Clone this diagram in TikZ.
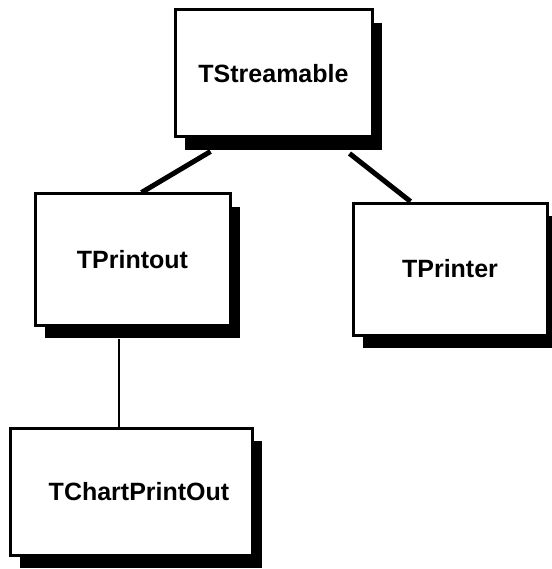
\documentclass[tikz,border=0pt]{standalone}
\usepackage{fontspec}
\setmainfont{Liberation Sans}
\usetikzlibrary{shadows,calc}
\tikzset{
  classbox/.style={draw=black, line width=3pt, fill=white, inner sep=0pt,
    font=\bfseries\fontsize{25}{25}\selectfont,
    general shadow={fill=black, shadow xshift=10pt, shadow yshift=-13pt}},
  thickconn/.style={draw=black, line width=5pt},
  thinconn/.style={draw=black, line width=2pt}
}
\begin{document}
\begin{tikzpicture}[x=1pt,y=-1pt]
\useasboundingbox (0,0) rectangle (551,569);
\fill[white] (0,0) rectangle (551,569);
\node[classbox, minimum width=197pt, minimum height=127pt] (A) at (273.5,73.5) {TStreamable};
\node[classbox, minimum width=195pt, minimum height=131pt] (B) at (132.5,259.5) {\raisebox{-5pt}{TPrintout}};
\node[classbox, minimum width=194pt, minimum height=132pt] (C) at (450,269) {TPrinter};
\node[classbox, minimum width=242pt, minimum height=127pt] (D) at (131,491.5) {\hspace*{16pt}\raisebox{-5pt}{TChartPrintOut}};
\draw[thickconn] ($(A.south west)+(37,13)$) -- ($(B.north west)+(108,0)$);
\draw[thickconn] ($(A.south east)+(-24,15)$) -- ($(C.north west)+(59,0)$);
\draw[thinconn] ($(B.south west)+(85,12)$) -- ($(D.north west)+(110,0)$);
\end{tikzpicture}
\end{document}
